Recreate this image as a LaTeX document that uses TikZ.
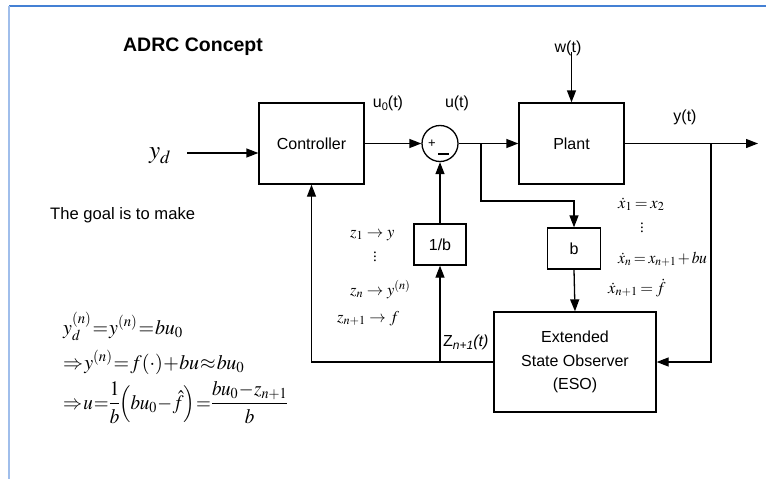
\documentclass[tikz,border=0pt]{standalone}
\usepackage{mathptmx}
\usepackage[no-math]{fontspec}
\setmainfont{Liberation Serif}
\setsansfont{Liberation Sans}
\usetikzlibrary{arrows.meta}
\definecolor{topblue}{RGB}{68,128,212}
\definecolor{leftblue}{RGB}{160,190,235}
\begin{document}
\begin{tikzpicture}[x=1pt,y=-1pt,
  box/.style={draw,line width=1.3pt,inner sep=0pt,font=\sffamily\fontsize{16}{23.5}\selectfont,align=center},
  conn/.style={line width=1.3pt},
  arr/.style={conn,-{Triangle[length=12pt,width=9pt]}},
  lbl/.style={font=\sffamily\fontsize{16}{19}\selectfont,inner sep=0pt},
  zlbl/.style={font=\fontsize{16.5}{18}\selectfont,inner sep=0pt,anchor=base west},
  xlbl/.style={font=\fontsize{16.5}{18}\selectfont,inner sep=0pt,anchor=base west,
    execute at begin node={\thickmuskip=3mu\medmuskip=2mu}},
  eqlbl/.style={font=\fontsize{20.5}{24}\selectfont,inner sep=0pt,anchor=base west,
    execute at begin node={\thickmuskip=1mu\medmuskip=0.5mu\nulldelimiterspace=0pt}}]
\useasboundingbox (0,0) rectangle (766,479);
\fill[white] (0,0) rectangle (766,479);
\draw[topblue,line width=1.5pt] (9,6) -- (766,6);
\draw[leftblue,line width=1.5pt] (9,6) -- (9,479);

\node[font=\sffamily\bfseries\fontsize{19.5}{22}\selectfont,inner sep=0pt] (title) at (193,47) {ADRC Concept};

\node[box,minimum width=105pt,minimum height=81pt] (ctrl) at (311.5,143.5) {Controller};
\node[draw,circle,line width=1.3pt,minimum size=36pt,inner sep=0pt] (sum) at (440,143.5) {};
\node[box,minimum width=105pt,minimum height=81pt] (plant) at (571.5,143.5) {Plant};
\node[box,minimum width=52pt,minimum height=41pt] (invb) at (440,244.5) {1/b};
\node[box,minimum width=53pt,minimum height=41pt] (bbox) at (574,248.5) {b};
\node[box,minimum width=162pt,minimum height=100pt] (eso) at (575,362) {Extended\\State Observer\\(ESO)};

\node[inner sep=0pt,font=\fontsize{25}{28}\selectfont] (yd) at (160,156) {$y_d$};
\coordinate (ydA) at (187,153);
\draw[arr] (ydA) -- (ctrl.west |- ydA);

\draw[arr] (ctrl.east) -- (sum.west);
\node[lbl] (u0) at (388,103) {u\raisebox{-3pt}{\fontsize{11}{11}\selectfont 0}(t)};
\node[lbl] (ut) at (457,103) {u(t)};
\node[inner sep=0pt,font=\sffamily\fontsize{13}{13}\selectfont] (plus) at (432,144) {+};
\node[inner sep=0pt] (minus) at (443.5,154) {\rule{11pt}{1.8pt}};

\draw[arr] (sum.east) -- (plant.west);
\coordinate (br1) at (481,143.5);
\coordinate (br1b) at (481,201);
\draw[arr] (br1) -- (br1b) -| (bbox.north);
\draw[arr] (bbox.south) -- (eso.north);

\node[lbl] (wt) at (568,48) {w(t)};
\coordinate (wtop) at (571.5,52);
\draw[arr] (wtop) -- (plant.north);

\coordinate (yout) at (758,143.5);
\draw[arr] (plant.east) -- (yout);
\node[lbl] (yt) at (685,117) {y(t)};
\coordinate (br2) at (711,143.5);
\draw[arr] (br2) |- (eso.east);

\draw[arr] (eso.west) -| (ctrl.south);
\coordinate (fb) at (440,362);
\draw[arr] (fb) -- (invb.south);
\draw[arr] (invb.north) -- (sum.south);

\node[lbl,anchor=west] (zn) at (443,342) {Z\raisebox{-3pt}{\fontsize{12}{12}\selectfont\itshape n+1}\textit{(t)}};

\node[zlbl] (z1) at (350,237) {$z_1\to y$};
\node[inner sep=0pt,font=\fontsize{15}{17}\selectfont] (zd) at (375,254) {$\vdots$};
\node[zlbl] (zn1) at (350,295) {$z_n\to y^{(n)}$};
\node[zlbl] (zn2) at (337,322) {$z_{n+1}\to f$};

\node[xlbl] (x1) at (618,208) {$\dot x_1=x_2$};
\node[inner sep=0pt,font=\fontsize{15}{17}\selectfont] (xd) at (642,225) {$\vdots$};
\node[xlbl] (xn) at (618,263) {\scalebox{0.94}[1]{$\dot x_n=x_{n+1}+bu$}};
\node[xlbl] (xn1) at (608,293) {$\dot x_{n+1}=\dot f$};

\node[lbl,anchor=west,font=\sffamily\fontsize{16.6}{19}\selectfont] (goal) at (50,215) {The goal is to make};

\node[eqlbl] (eq1) at (63,334) {\scalebox{0.975}[1]{$y_d^{(n)}=y^{(n)}=bu_0$}};
\node[eqlbl] (eq2) at (63,369) {\scalebox{0.975}[1]{$\Rightarrow y^{(n)}=f(\cdot)+bu\approx bu_0$}};
\node[eqlbl] (eq3) at (63,409) {\scalebox{0.93}[1]{$\displaystyle\Rightarrow u=\frac{1}{b}\Bigl(bu_0-\hat f\Bigr)=\frac{bu_0-z_{n+1}}{b}$}};
\end{tikzpicture}
\end{document}
